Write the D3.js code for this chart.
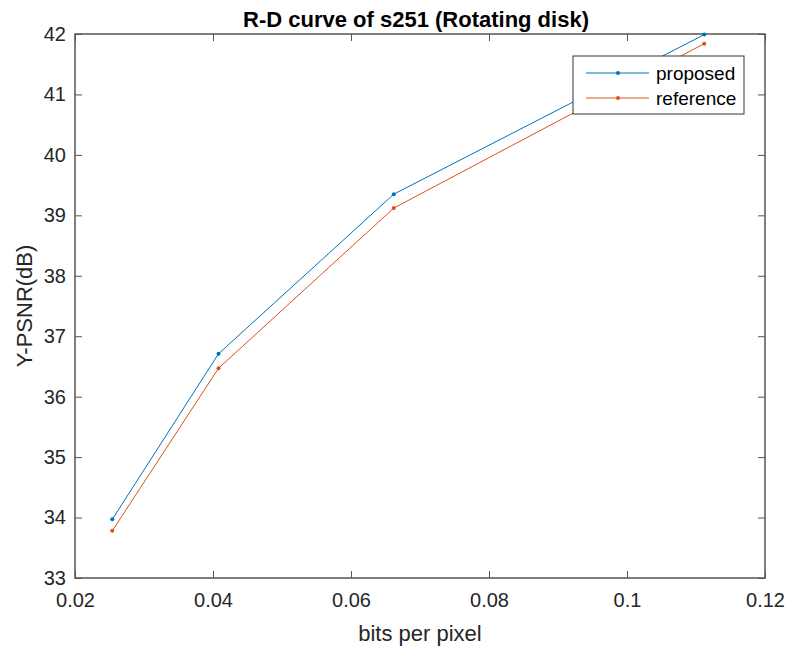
<!DOCTYPE html>
<html>
<head>
<meta charset="utf-8">
<script src="https://cdn.jsdelivr.net/npm/d3@7"></script>
<style>
  body { margin: 0; background: #fff; }
  text { font-family: "Liberation Sans", Arial, sans-serif; }
</style>
</head>
<body>
<svg id="chart" width="790" height="650"></svg>
<script>
const bpp = [0.0254, 0.0408, 0.0662, 0.1112];
const proposed = [33.97, 36.71, 39.35, 41.99];
const reference = [33.78, 36.47, 39.12, 41.84];
const xTicks = [0.02, 0.04, 0.06, 0.08, 0.1, 0.12];
const yTicks = [33, 34, 35, 36, 37, 38, 39, 40, 41, 42];
const seriesNames = ["proposed", "reference"];
const seriesColors = ["#0072BD", "#D95319"];

const margin = {left: 75, right: 25, top: 34, bottom: 72};
const W = 790, H = 650;

const svg = d3.select("#chart");
const x = d3.scaleLinear().domain([0.02, 0.12]).range([margin.left, W - margin.right]);
const y = d3.scaleLinear().domain([33, 42]).range([H - margin.bottom, margin.top]);

const axisColor = "#555";

// box + ticks
function styleAxis(g, hideText) {
    g.select(".domain").remove();
    g.selectAll(".tick line").attr("stroke", axisColor).attr("stroke-width", 1);
    g.selectAll(".tick text").attr("fill", "#262626").style("font-size", "20px");
    if (hideText) g.selectAll(".tick text").remove();
}

svg.append("g")
    .attr("transform", `translate(0,${y(33)})`)
    .call(d3.axisBottom(x).tickValues(xTicks).tickSizeInner(-7).tickSizeOuter(0).tickPadding(15).tickFormat(d3.format("~g")))
    .call(g => styleAxis(g, false));
svg.append("g")
    .attr("transform", `translate(0,${y(42)})`)
    .call(d3.axisTop(x).tickValues(xTicks).tickSizeInner(-7).tickSizeOuter(0))
    .call(g => styleAxis(g, true));
svg.append("g")
    .attr("transform", `translate(${x(0.02)},0)`)
    .call(d3.axisLeft(y).tickValues(yTicks).tickSizeInner(-7).tickSizeOuter(0).tickPadding(9))
    .call(g => styleAxis(g, false));
svg.append("g")
    .attr("transform", `translate(${x(0.12)},0)`)
    .call(d3.axisRight(y).tickValues(yTicks).tickSizeInner(-7).tickSizeOuter(0))
    .call(g => styleAxis(g, true));

svg.append("rect")
    .attr("x", x(0.02)).attr("y", y(42))
    .attr("width", x(0.12) - x(0.02)).attr("height", y(33) - y(42))
    .attr("fill", "none").attr("stroke", axisColor).attr("stroke-width", 1.5);

// series
const line = d3.line().x(d => x(d[0])).y(d => y(d[1]));
[proposed, reference].forEach((vals, i) => {
    const pts = bpp.map((b, j) => [b, vals[j]]);
    svg.append("path")
        .datum(pts)
        .attr("d", line)
        .attr("fill", "none")
        .attr("stroke", seriesColors[i])
        .attr("stroke-width", 1);
    svg.selectAll(".pt" + i)
        .data(pts).enter()
        .append("circle")
        .attr("cx", d => x(d[0]))
        .attr("cy", d => y(d[1]))
        .attr("r", 2)
        .attr("fill", seriesColors[i]);
});

// legend
const lg = svg.append("g").attr("transform", "translate(573,56)");
lg.append("rect")
    .attr("width", 171).attr("height", 58)
    .attr("fill", "#fff").attr("stroke", "#333").attr("stroke-width", 1);
seriesNames.forEach((name, i) => {
    const yy = 17 + i * 25;
    lg.append("line").attr("x1", 13).attr("x2", 76).attr("y1", yy).attr("y2", yy)
        .attr("stroke", seriesColors[i]).attr("stroke-width", 1);
    lg.append("circle").attr("cx", 45).attr("cy", yy).attr("r", 2).attr("fill", seriesColors[i]);
    lg.append("text").attr("x", 83).attr("y", yy + 7)
        .style("font-size", "19px").attr("fill", "#000").text(name);
});

// labels
svg.append("text")
    .attr("x", 416).attr("y", 27)
    .attr("text-anchor", "middle")
    .style("font-size", "22px").style("font-weight", "bold").attr("fill", "#000")
    .text("R-D curve of s251 (Rotating disk)");
svg.append("text")
    .attr("x", (x(0.02) + x(0.12)) / 2).attr("y", 641)
    .attr("text-anchor", "middle")
    .style("font-size", "22px").attr("fill", "#262626")
    .text("bits per pixel");
svg.append("text")
    .attr("transform", `translate(32,${(y(33) + y(42)) / 2}) rotate(-90)`)
    .attr("text-anchor", "middle")
    .style("font-size", "22px").attr("fill", "#262626")
    .text("Y-PSNR(dB)");
</script>
</body>
</html>
